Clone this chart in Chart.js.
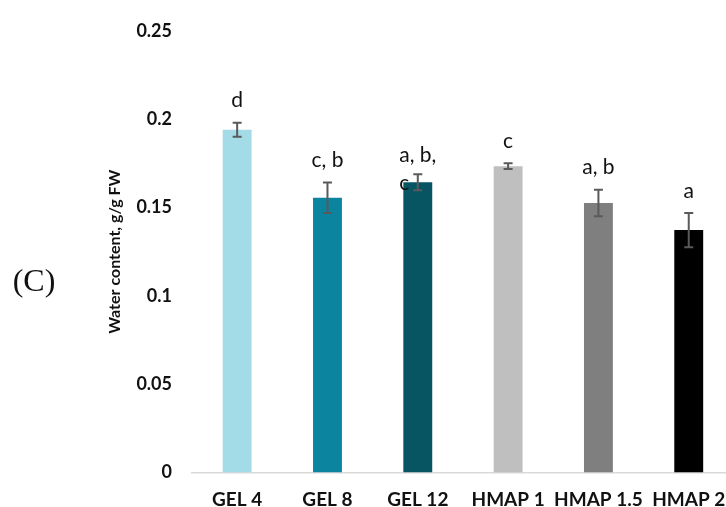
<!DOCTYPE html>
<html>
<head>
<meta charset="utf-8">
<script src="https://cdn.jsdelivr.net/npm/chart.js@4.4.1/dist/chart.umd.min.js"></script>
<style>
    html, body { margin: 0; padding: 0; background: #fff; overflow: hidden; }
    #wrap { width: 726px; height: 507px; overflow: hidden; position: relative; }
    #box { width: 742px; height: 507px; }
</style>
</head>
<body>
<div id="wrap"><div id="box"><canvas id="waterChart"></canvas></div></div>
<script>
const groups = ['GEL 4', 'GEL 8', 'GEL 12', 'HMAP 1', 'HMAP 1.5', 'HMAP 2'];
const waterContent = [0.194, 0.1555, 0.1643, 0.1734, 0.1526, 0.1372];
const errors = [0.004, 0.0086, 0.0045, 0.0016, 0.0075, 0.0097];
const letters = ['d', 'c, b', ['a, b,', 'c'], 'c', 'a, b', 'a'];
const barColors = ['#A3DCE7', '#0B849F', '#075563', '#BFBFBF', '#7F7F7F', '#000000'];
const yTicks = [0, 0.05, 0.1, 0.15, 0.2, 0.25];

// error bars + letters above them
const extrasPlugin = {
    id: 'extras',
    afterDatasetsDraw(chart) {
        const ctx = chart.ctx;
        const meta = chart.getDatasetMeta(0);
        const y = chart.scales.y;
        ctx.save();
        meta.data.forEach((bar, i) => {
            const top = y.getPixelForValue(waterContent[i] + errors[i]);
            const bot = y.getPixelForValue(waterContent[i] - errors[i]);
            ctx.strokeStyle = '#5a5a5a';
            ctx.lineWidth = 2;
            ctx.beginPath();
            ctx.moveTo(bar.x, top); ctx.lineTo(bar.x, bot);
            ctx.moveTo(bar.x - 4.5, top); ctx.lineTo(bar.x + 4.5, top);
            ctx.moveTo(bar.x - 4.5, bot); ctx.lineTo(bar.x + 4.5, bot);
            ctx.stroke();

            ctx.fillStyle = '#111';
            ctx.font = '21px Lato';
            ctx.textBaseline = 'middle';
            const lab = letters[i];
            if (Array.isArray(lab)) {
                const w = ctx.measureText(lab[0]).width;
                ctx.textAlign = 'left';
                lab.forEach((line, k) => {
                    ctx.fillText(line, bar.x - w / 2, top - 19 + k * 28);
                });
            } else {
                ctx.textAlign = 'center';
                ctx.fillText(lab, bar.x, top - 22);
            }
        });
        ctx.restore();

        // panel letter
        ctx.save();
        ctx.fillStyle = '#111';
        ctx.font = '32px "Liberation Serif"';
        ctx.textAlign = 'center';
        ctx.textBaseline = 'middle';
        ctx.fillText('(C)', 34, 283);
        ctx.restore();
    }
};

new Chart(document.getElementById('waterChart'), {
    type: 'bar',
    data: {
        labels: groups,
        datasets: [{
            data: waterContent,
            backgroundColor: barColors,
            borderWidth: 0,
            barPercentage: 0.32,
            categoryPercentage: 1
        }]
    },
    options: {
        responsive: true,
        maintainAspectRatio: false,
        animation: false,
        layout: { padding: { top: 24, left: 102, right: 8, bottom: 0 } },
        plugins: { legend: { display: false }, tooltip: { enabled: false } },
        scales: {
            x: {
                grid: { display: false, drawTicks: false },
                border: { display: true, color: '#D9D9D9', width: 1.5 },
                ticks: {
                    color: '#111',
                    font: { family: 'Lato', size: 19, weight: 'bold' },
                    padding: 16,
                    maxRotation: 0,
                    minRotation: 0,
                    autoSkip: false
                },
                afterFit: s => { s.height = 34.5; }
            },
            y: {
                min: 0,
                max: 0.25,
                afterBuildTicks: s => { s.ticks = yTicks.map(v => ({ value: v })); },
                grid: { display: false, drawTicks: false },
                border: { display: false },
                ticks: {
                    color: '#111',
                    font: { family: 'Lato', size: 18, weight: 'bold' },
                    padding: 20,
                    callback: v => String(v)
                },
                title: {
                    display: true,
                    text: 'Water content, g/g FW',
                    color: '#111',
                    font: { family: 'Lato', size: 16, weight: 'bold' },
                    padding: { top: 3, bottom: 0 }
                },
                afterFit: s => { s.width = 90; }
            }
        }
    },
    plugins: [extrasPlugin]
});
</script>
</body>
</html>
